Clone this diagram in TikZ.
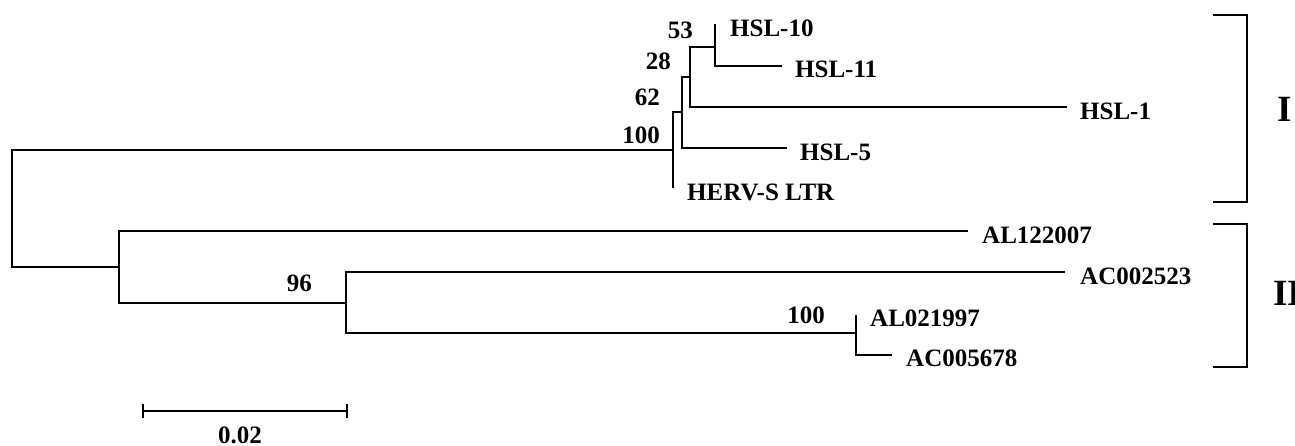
\documentclass[tikz,border=0pt]{standalone}
\usepackage{fontspec}
\setmainfont{Liberation Serif}
\begin{document}
\begin{tikzpicture}[x=1pt,y=-1pt,
  branch/.style={line width=2.5pt,line join=miter},
  brk/.style={line width=2.2pt,line join=miter},
  lab/.style={anchor=west,inner sep=0pt,font=\fontsize{25}{28}\selectfont\bfseries},
  boot/.style={anchor=east,inner sep=0pt,font=\fontsize{25}{28}\selectfont\bfseries},
  grp/.style={inner sep=0pt,font=\fontsize{37}{40}\selectfont\bfseries}]
\useasboundingbox (0,0) rectangle (1295,446);
% internal nodes
\coordinate (R) at (12,209);
\coordinate (nI) at (673,150);
\coordinate (n62) at (682,112);
\coordinate (n28) at (690,77);
\coordinate (n53) at (715,47);
\coordinate (nII) at (119,267);
\coordinate (n96) at (346,303);
\coordinate (n100b) at (856,333);
% leaves
\coordinate (HSL10) at (715,24);
\coordinate (HSL11) at (782,66);
\coordinate (HSL1) at (1067,107);
\coordinate (HSL5) at (787,148);
\coordinate (HERV) at (673,188);
\coordinate (AL122007) at (968,231);
\coordinate (AC002523) at (1065,272);
\coordinate (AL021997) at (856,315);
\coordinate (AC005678) at (892,355);
% branches
\draw[branch] (R) |- (nI);
\draw[branch] (R) |- (nII);
\draw[branch] (nI) |- (n62);
\draw[branch] (nI) |- (HERV);
\draw[branch] (n62) |- (n28);
\draw[branch] (n62) |- (HSL5);
\draw[branch] (n28) |- (n53);
\draw[branch] (n28) |- (HSL1);
\draw[branch] (n53) |- (HSL10);
\draw[branch] (n53) |- (HSL11);
\draw[branch] (nII) |- (AL122007);
\draw[branch] (nII) |- (n96);
\draw[branch] (n96) |- (AC002523);
\draw[branch] (n96) |- (n100b);
\draw[branch] (n100b) |- (AL021997);
\draw[branch] (n100b) |- (AC005678);
% leaf labels
\node[lab] (tHSL10) at (730,28) {HSL-10};
\node[lab] (tHSL11) at (795,69) {HSL-11};
\node[lab] (tHSL1) at (1080,111) {HSL-1};
\node[lab] (tHSL5) at (800,152) {HSL-5};
\node[lab] (tHERV) at (687,192) {HERV-S LTR};
\node[lab] (tAL122007) at (982,235) {AL122007};
\node[lab] (tAC002523) at (1080,276) {AC002523};
\node[lab] (tAL021997) at (870,318) {AL021997};
\node[lab] (tAC005678) at (906,358) {AC005678};
% bootstrap values
\node[boot] (b53) at (693,30) {53};
\node[boot] (b28) at (671,61) {28};
\node[boot] (b62) at (660,97) {62};
\node[boot] (b100) at (660,135) {100};
\node[boot] (b96) at (312,283) {96};
\node[boot] (b100b) at (825,315) {100};
% group brackets
\draw[brk] (1213,15) -- (1247,15) -- (1247,202) -- (1213,202);
\draw[brk] (1213,224) -- (1247,224) -- (1247,367) -- (1213,367);
\node[grp] (gI) at (1285,109) {I};
\node[grp,anchor=west] (gII) at (1273,293) {II};
% scale bar
\coordinate (sA) at (143,411);
\coordinate (sB) at (347,411);
\draw[branch] (sA) -- (sB);
\draw[branch] ([yshift=-7pt]sA) -- ([yshift=7pt]sA);
\draw[branch] ([yshift=-7pt]sB) -- ([yshift=7pt]sB);
\node[lab,anchor=center] (scale) at (240,435) {0.02};
\end{tikzpicture}
\end{document}
